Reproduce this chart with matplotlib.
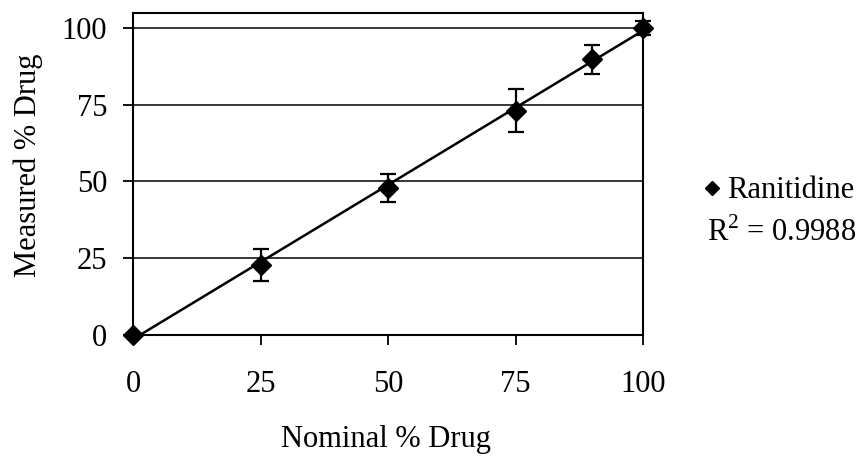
import numpy as np
import matplotlib.pyplot as plt
from matplotlib.lines import Line2D

plt.rcParams['font.family'] = ['Liberation Serif', 'DejaVu Serif']
plt.rcParams['mathtext.fontset'] = 'custom'
plt.rcParams['mathtext.rm'] = 'Liberation Serif'

# data
nominal = np.array([0, 25, 50, 75, 90, 100])
measured = np.array([0, 22.8, 47.9, 73.0, 89.8, 99.9])
err = np.array([0, 5.2, 4.5, 7.0, 4.7, 2.2])
ticks = [0, 25, 50, 75, 100]
series_name = 'Ranitidine'
r2_text = 'R$^2$ = 0.9988'

W, H = 863, 457
fig = plt.figure(figsize=(W/100, H/100), dpi=100)
ax = fig.add_axes([133/W, 1-335/H, 510/W, 322.5/H])

# horizontal gridlines
for t in ticks[1:]:
    ax.axhline(t, color='black', lw=1.1, zorder=1)

# linear trendline
a, b = np.polyfit(nominal, measured, 1)
xl = np.array([0, 100])
ax.plot(xl, a*xl+b, color='black', lw=1.8, zorder=2)

ax.errorbar(nominal, measured, yerr=err, fmt='none', ecolor='black',
            elinewidth=1.6, capsize=6, capthick=1.6, zorder=3, clip_on=False)
ax.plot(nominal, measured, 'D', color='black', ms=10, zorder=4, clip_on=False)

ax.set_xlim(0, 100)
ax.set_ylim(0, 105)
ax.set_xticks(ticks)
ax.set_yticks(ticks)
ax.tick_params(direction='out', length=7.5, width=1.3, labelsize=22)
ax.tick_params(axis='x', pad=18)
ax.tick_params(axis='y', pad=11)
for s in ax.spines.values():
    s.set_linewidth(1.5)

fig.text(386/W, 1-447/H, 'Nominal % Drug', fontsize=22, ha='center', va='baseline')
fig.text(28/W, 1-165/H, 'Measured % Drug', fontsize=22, ha='center', va='center',
         rotation=90)

h = Line2D([], [], marker='D', color='black', ls='none', ms=7)
fig.legend([h], [series_name], loc='center left', bbox_to_anchor=(704/W, 1-191/H),
           frameon=False, fontsize=22, handlelength=0.5, handletextpad=0.25,
           borderpad=0, borderaxespad=0)
fig.text(707/W, 1-241/H, r2_text, fontsize=22, ha='left', va='baseline')

fig.savefig('out.png', dpi=100)
